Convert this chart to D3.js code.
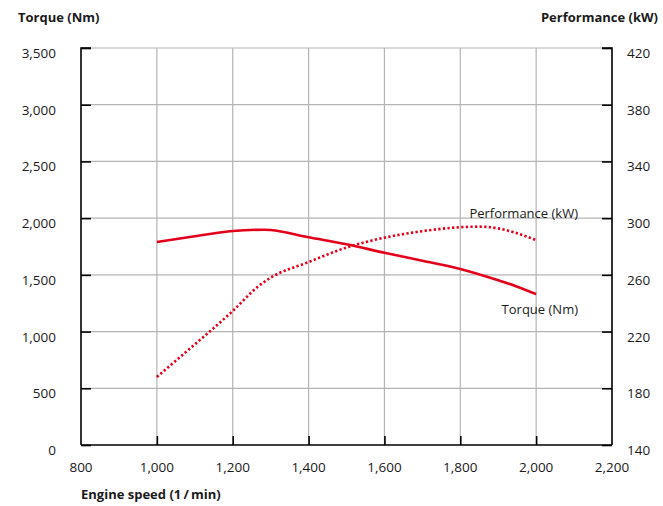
<!DOCTYPE html>
<html>
<head>
<meta charset="utf-8">
<script src="https://cdn.jsdelivr.net/npm/d3@7"></script>
<style>
  body { margin: 0; background: #fff; }
  text { font-family: "Open Sans", "Noto Sans", sans-serif; }
</style>
</head>
<body>
<div id="chart"></div>
<script>
// torque curve (Nm)
const torqueRpm = [1000, 1100, 1200, 1284, 1300, 1400, 1500, 1600, 1700, 1800, 1900, 1950, 2000];
const torqueNm = [1790, 1840, 1887, 1898, 1895, 1831, 1770, 1695, 1625, 1552, 1452, 1396, 1330];

// performance curve (kW)
const perfRpm = [1000, 1100, 1200, 1270, 1300, 1400, 1500, 1600, 1700, 1800, 1850, 1900, 1950, 2000];
const perfKw = [188, 211, 234.5, 252.5, 258, 269, 279.3, 286.2, 290.8, 293.6, 294, 292.8, 289.3, 284.5];

const xTicks = [800, 1000, 1200, 1400, 1600, 1800, 2000, 2200];
const torqueTicks = [0, 500, 1000, 1500, 2000, 2500, 3000, 3500];
const perfTicks = [140, 180, 220, 260, 300, 340, 380, 420];

const W = 663, H = 506;
const margin = { top: 48, right: 50, bottom: 61, left: 81 };
const red = "#e2001a";

const svg = d3.select("#chart")
  .append("svg")
  .attr("width", W)
  .attr("height", H);

const x = d3.scaleLinear().domain([800, 2200]).range([margin.left, W - margin.right - 1]);
const yL = d3.scaleLinear().domain([0, 3500]).range([H - margin.bottom, margin.top]);
const yR = d3.scaleLinear().domain([140, 420]).range([H - margin.bottom, margin.top]);

// grid
svg.append("g")
  .selectAll("line")
  .data(xTicks.slice(1, -1))
  .join("line")
  .attr("x1", d => x(d)).attr("x2", d => x(d))
  .attr("y1", yL(3500)).attr("y2", yL(0))
  .attr("stroke", "#b4b4b4").attr("stroke-width", 1.2);

svg.append("g")
  .selectAll("line")
  .data(torqueTicks.slice(1, -1))
  .join("line")
  .attr("x1", x(800)).attr("x2", x(2200))
  .attr("y1", d => yL(d)).attr("y2", d => yL(d))
  .attr("stroke", "#b4b4b4").attr("stroke-width", 1.2);

svg.append("line")
  .attr("x1", x(800)).attr("x2", x(2200) - 10)
  .attr("y1", yL(3500)).attr("y2", yL(3500))
  .attr("stroke", "#b4b4b4").attr("stroke-width", 1.2);

// axes
const left = svg.append("g")
  .attr("transform", `translate(${x(800)},0)`)
  .call(d3.axisRight(yL).tickValues(torqueTicks).tickSize(10).tickFormat(""));
const right = svg.append("g")
  .attr("transform", `translate(${x(2200)},0)`)
  .call(d3.axisLeft(yR).tickValues(perfTicks).tickSize(10).tickFormat(""));
const bottom = svg.append("g")
  .attr("transform", `translate(0,${yL(0)})`)
  .call(d3.axisTop(x).tickValues(xTicks.slice(1, -1)).tickSize(9).tickFormat(""));

[left, right, bottom].forEach(g => {
  g.selectAll("path").attr("stroke", "#000").attr("stroke-width", 1.6);
  g.selectAll(".tick line").attr("stroke", "#000").attr("stroke-width", 1.6);
});
left.select(".domain").attr("d", `M10,${yL(3500)}H0V${yL(0)}`);
right.select(".domain").attr("d", `M-10,${yL(3500)}H0V${yL(0)}`);
bottom.select(".domain").attr("d", `M${x(800)},0H${x(2200)}`);

// tick labels
const fmt = d3.format(",");
svg.append("g")
  .selectAll("text")
  .data(torqueTicks)
  .join("text")
  .attr("x", 56).attr("y", d => yL(d) + 10)
  .attr("text-anchor", "end")
  .attr("font-size", 13.5).attr("fill", "#1a1a1a")
  .text(d => fmt(d));

svg.append("g")
  .selectAll("text")
  .data(perfTicks)
  .join("text")
  .attr("x", 627).attr("y", d => yR(d) + 10)
  .attr("font-size", 13.5).attr("fill", "#1a1a1a")
  .text(d => d);

svg.append("g")
  .selectAll("text")
  .data(xTicks)
  .join("text")
  .attr("x", d => x(d)).attr("y", yL(0) + 27)
  .attr("text-anchor", "middle")
  .attr("font-size", 13.5).attr("fill", "#1a1a1a")
  .text(d => fmt(d));

// axis titles
svg.append("text").attr("x", 18).attr("y", 22)
  .attr("font-size", 13).attr("font-weight", "bold").attr("fill", "#1a1a1a")
  .text("Torque (Nm)");
svg.append("text").attr("x", 658).attr("y", 22).attr("text-anchor", "end")
  .attr("font-size", 13).attr("font-weight", "bold").attr("fill", "#1a1a1a")
  .text("Performance (kW)");
svg.append("text").attr("x", 81).attr("y", 499)
  .attr("font-size", 13).attr("font-weight", "bold").attr("fill", "#1a1a1a")
  .text("Engine speed (1\u2009/\u2009min)");

// lines
const torqueLine = d3.line()
  .x((d, i) => x(torqueRpm[i]))
  .y(d => yL(d))
  .curve(d3.curveMonotoneX);
svg.append("path")
  .attr("d", torqueLine(torqueNm))
  .attr("fill", "none").attr("stroke", red).attr("stroke-width", 2.6);

const perfLine = d3.line()
  .x((d, i) => x(perfRpm[i]))
  .y(d => yR(d))
  .curve(d3.curveMonotoneX);
svg.append("path")
  .attr("d", perfLine(perfKw))
  .attr("fill", "none").attr("stroke", red).attr("stroke-width", 2.6)
  .attr("stroke-dasharray", "2.3 2.3");

// series labels
svg.append("text").attr("x", 578).attr("y", 218).attr("text-anchor", "end")
  .attr("font-size", 13).attr("fill", "#1a1a1a")
  .text("Performance (kW)");
svg.append("text").attr("x", 578).attr("y", 314).attr("text-anchor", "end")
  .attr("font-size", 13).attr("fill", "#1a1a1a")
  .text("Torque (Nm)");
</script>
</body>
</html>
